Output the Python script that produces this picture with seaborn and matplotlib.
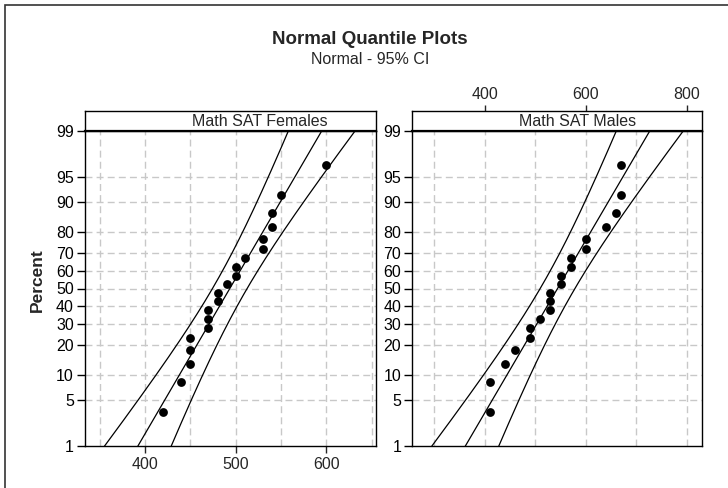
import numpy as np
import pandas as pd
import matplotlib
matplotlib.use("Agg")
import matplotlib.pyplot as plt
import matplotlib.patches as mpatches
import seaborn as sns
from statistics import NormalDist

# Math SAT scores
female_scores = [420, 440, 450, 450, 450, 470, 470, 470, 480, 480,
                 490, 500, 500, 510, 530, 530, 540, 540, 550, 600]
male_scores = [410, 410, 440, 460, 490, 490, 510, 530, 530, 530,
               550, 550, 570, 570, 600, 600, 640, 660, 670, 670]
panel_titles = ["Math SAT Females", "Math SAT Males"]
pct_ticks = [1, 5, 10, 20, 30, 40, 50, 60, 70, 80, 90, 95, 99]
female_xticks = [400, 500, 600]
male_xticks = [400, 600, 800]

sns.set_style("white")
plt.rcParams['font.family'] = ['Liberation Sans', 'DejaVu Sans']

nd = NormalDist()


def zval(p):
    return np.array([nd.inv_cdf(v) for v in np.atleast_1d(p)])


def prob_frame(scores):
    # median ranks, as Minitab does for probability plots
    s = np.sort(np.asarray(scores, dtype=float))
    n = len(s)
    ranks = (np.arange(1, n + 1) - 0.3) / (n + 0.4)
    return pd.DataFrame({"score": s, "z": zval(ranks)})


def fit_bands(scores):
    s = np.asarray(scores, dtype=float)
    n = len(s)
    mu, sd = s.mean(), s.std()  # ML estimates
    zz = np.linspace(-3.0, 3.0, 300)
    fit = mu + zz * sd
    half = 1.96 * sd * np.sqrt(1.0 / n + zz ** 2 / (2.0 * n))
    return zz, fit, fit - half, fit + half


W, H = 728, 488
FS = 11.5
fig = plt.figure(figsize=(W / 100, H / 100), dpi=100)

# outer frame
fig.add_artist(mpatches.Rectangle((5 / W, -0.01), 1.0, 1 - 5 / H + 0.01,
                                  transform=fig.transFigure, fill=False,
                                  edgecolor='#333333', linewidth=1.2))

bottom, height = 1 - 446 / H, (446 - 131) / H
strip_h = (131 - 110.5) / H
panels = [
    dict(data=female_scores, left=85 / W, width=290.5 / W, xlim=(334, 654),
         grid=np.arange(350, 651, 50), xticks=female_xticks, tx=0.603),
    dict(data=male_scores, left=412.3 / W, width=290 / W, xlim=(256, 831),
         grid=np.arange(300, 801, 100), xticks=male_xticks, tx=0.569),
]

ylo, yhi = zval(0.01)[0], zval(0.99)[0]
tick_z = zval(np.array(pct_ticks) / 100.0)

for i, p in enumerate(panels):
    ax = fig.add_axes([p['left'], bottom, p['width'], height])
    ax.set_xlim(*p['xlim'])
    ax.set_ylim(ylo, yhi)

    for g in p['grid']:
        ax.axvline(g, color='#c8c8c8', lw=1.0, ls=(0, (5, 3)), zorder=0)
    for t in tick_z[1:-1]:
        ax.axhline(t, color='#c8c8c8', lw=1.0, ls=(0, (5, 3)), zorder=0)

    zz, fit, lo, hi = fit_bands(p['data'])
    for xs in (fit, lo, hi):
        ax.plot(xs, zz, color='black', lw=0.9, zorder=2)

    df = prob_frame(p['data'])
    sns.scatterplot(data=df, x='score', y='z', ax=ax, color='black', s=40,
                    edgecolor='black', linewidth=0, zorder=3)

    ax.set_yticks(tick_z)
    ax.set_yticklabels([str(t) for t in pct_ticks])
    ax.tick_params(axis='y', left=True, length=6, width=1, pad=2,
                   labelsize=FS, direction='out', colors='black')
    if i == 0:
        ax.set_xticks(p['xticks'])
        ax.tick_params(axis='x', bottom=True, length=5, width=1, pad=3,
                       labelsize=FS, direction='out')
    else:
        ax.set_xticks([])
    ax.set_xlabel('')
    ax.set_ylabel('')
    for sp in ax.spines.values():
        sp.set_color('black')
        sp.set_linewidth(1.0)

    # strip box with panel title
    sax = fig.add_axes([p['left'], bottom + height, p['width'], strip_h])
    sax.set_xlim(*p['xlim'])
    sax.set_yticks([])
    if i == 1:
        sax.set_xticks(p['xticks'])
        sax.xaxis.tick_top()
        sax.tick_params(axis='x', top=True, bottom=False, length=4, width=1,
                        pad=2, labelsize=FS, direction='out')
    else:
        sax.set_xticks([])
    for sp in sax.spines.values():
        sp.set_color('black')
        sp.set_linewidth(1.0)
    sax.spines['bottom'].set_linewidth(1.6)
    sax.text(p['tx'], 0.45, panel_titles[i], transform=sax.transAxes,
             ha='center', va='center', fontsize=FS)

fig.text(370 / W, 1 - 39 / H, 'Normal Quantile Plots', ha='center',
         va='center', fontsize=13.5, fontweight='bold')
fig.text(370 / W, 1 - 60 / H, 'Normal - 95% CI', ha='center', va='center',
         fontsize=FS)
fig.text(37 / W, 1 - 280 / H, 'Percent', ha='center', va='center',
         rotation=90, fontsize=12.5, fontweight='bold')

fig.savefig('out.png', dpi=100)
